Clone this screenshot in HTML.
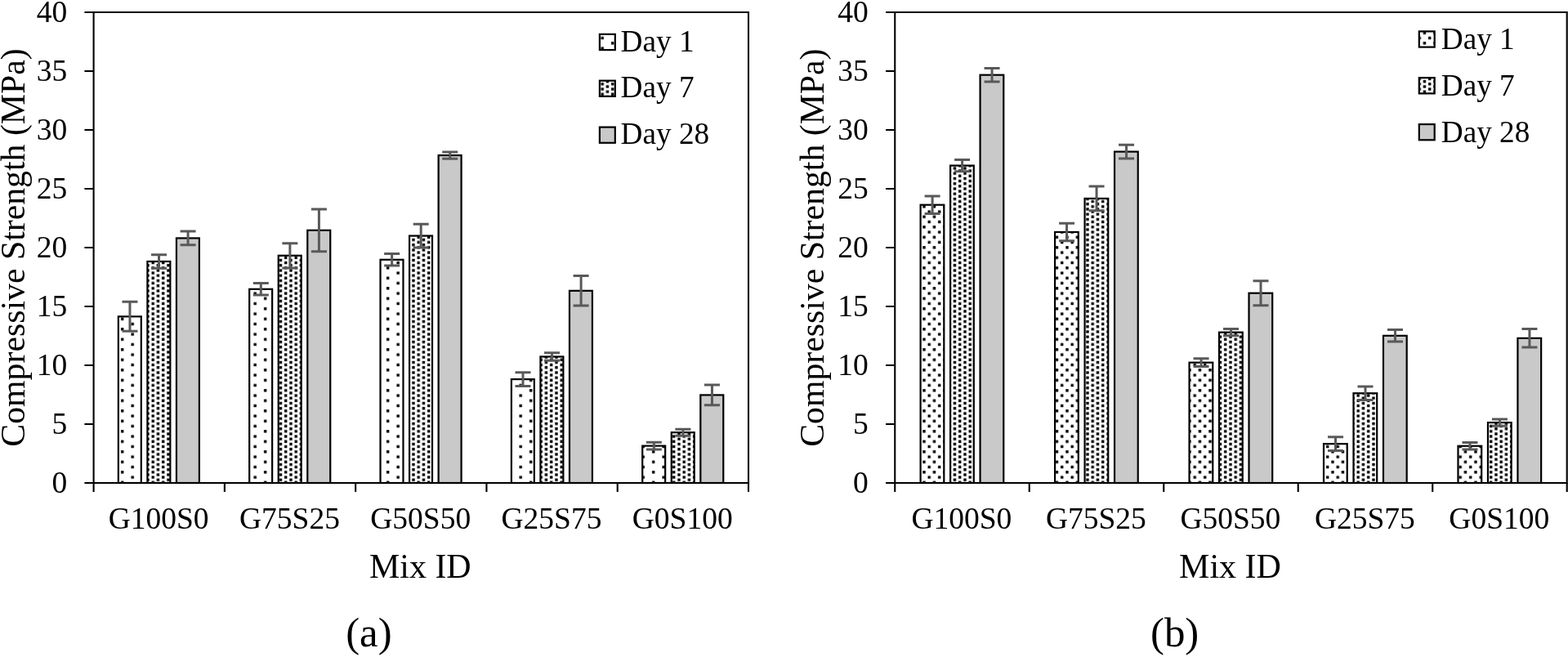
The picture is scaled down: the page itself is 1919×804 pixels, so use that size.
<!DOCTYPE html>
<html lang="en"><head><meta charset="utf-8"><title>Compressive strength</title>
<style>
html,body{margin:0;padding:0;background:#fff;}
body{width:1919px;height:804px;overflow:hidden;}
svg{display:block;}
text{font-family:"Liberation Serif","Times New Roman",serif;fill:#000;}
.t{font-size:37px;}
.ti{font-size:41.3px;}
.cp{font-size:50.6px;}
.ax{stroke:#000;stroke-width:2.1;fill:none;}
.b{stroke:#000;stroke-width:2.2;}
.e{stroke:#595959;stroke-width:3;fill:none;}
</style></head><body>
<svg width="1919" height="804" viewBox="0 0 1919 804">
<defs>
<pattern id="p10" patternUnits="userSpaceOnUse" x="-1.863" y="-1.863" width="25.000" height="12.500"><rect width="25.000" height="12.500" fill="#fff"/><g fill="#000"><rect x="-0.137" y="2.987" width="3.400" height="3.400"/><rect x="24.863" y="2.987" width="3.400" height="3.400"/><rect x="12.363" y="-3.262" width="3.400" height="3.400"/><rect x="12.363" y="9.238" width="3.400" height="3.400"/></g></pattern>
<pattern id="p20" patternUnits="userSpaceOnUse" x="-1.863" y="-1.863" width="12.500" height="12.500"><rect width="12.500" height="12.500" fill="#fff"/><g fill="#000"><rect x="6.112" y="2.987" width="3.400" height="3.400"/><rect x="-0.137" y="-3.262" width="3.400" height="3.400"/><rect x="-0.137" y="9.238" width="3.400" height="3.400"/><rect x="12.363" y="-3.262" width="3.400" height="3.400"/><rect x="12.363" y="9.238" width="3.400" height="3.400"/></g></pattern>
<pattern id="p25" patternUnits="userSpaceOnUse" x="-1.863" y="-1.863" width="12.500" height="6.250"><rect width="12.500" height="6.250" fill="#fff"/><g fill="#000"><rect x="-0.137" y="-3.263" width="3.400" height="3.400"/><rect x="-0.137" y="2.987" width="3.400" height="3.400"/><rect x="12.363" y="-3.263" width="3.400" height="3.400"/><rect x="12.363" y="2.987" width="3.400" height="3.400"/><rect x="6.112" y="-0.137" width="3.400" height="3.400"/><rect x="6.112" y="6.112" width="3.400" height="3.400"/></g></pattern>
</defs>
<rect width="1919" height="804" fill="#fff"/>
<g id="chart-a">
<rect class="b" x="144.85" y="387.35" width="27.95" height="203.65" fill="url(#p10)"/>
<rect class="b" x="180.40" y="319.96" width="27.95" height="271.04" fill="url(#p25)"/>
<rect class="b" x="215.95" y="291.45" width="27.95" height="299.55" fill="#c9c9c9"/>
<rect class="b" x="305.19" y="353.80" width="27.95" height="237.20" fill="url(#p10)"/>
<rect class="b" x="340.74" y="312.76" width="27.95" height="278.24" fill="url(#p25)"/>
<rect class="b" x="376.29" y="281.80" width="27.95" height="309.20" fill="#c9c9c9"/>
<rect class="b" x="465.53" y="317.80" width="27.95" height="273.20" fill="url(#p10)"/>
<rect class="b" x="501.08" y="288.57" width="27.95" height="302.43" fill="url(#p25)"/>
<rect class="b" x="536.63" y="190.07" width="27.95" height="400.93" fill="#c9c9c9"/>
<rect class="b" x="625.87" y="464.10" width="27.95" height="126.90" fill="url(#p10)"/>
<rect class="b" x="661.42" y="436.46" width="27.95" height="154.54" fill="url(#p25)"/>
<rect class="b" x="696.97" y="355.82" width="27.95" height="235.18" fill="#c9c9c9"/>
<rect class="b" x="786.21" y="545.61" width="27.95" height="45.39" fill="url(#p10)"/>
<rect class="b" x="821.76" y="529.19" width="27.95" height="61.81" fill="url(#p25)"/>
<rect class="b" x="857.31" y="483.40" width="27.95" height="107.60" fill="#c9c9c9"/>
<path class="e" d="M158.97 369.35V405.35M149.47 369.35H168.47M149.47 405.35H168.47"/>
<path class="e" d="M194.52 311.75V328.17M185.02 311.75H204.02M185.02 328.17H204.02"/>
<path class="e" d="M230.07 283.10V299.80M220.57 283.10H239.57M220.57 299.80H239.57"/>
<path class="e" d="M319.31 346.60V361.00M309.81 346.60H328.81M309.81 361.00H328.81"/>
<path class="e" d="M354.87 297.64V327.88M345.37 297.64H364.37M345.37 327.88H364.37"/>
<path class="e" d="M390.41 255.88V307.72M380.91 255.88H399.91M380.91 307.72H399.91"/>
<path class="e" d="M479.65 310.60V325.00M470.15 310.60H489.15M470.15 325.00H489.15"/>
<path class="e" d="M515.20 274.17V302.97M505.70 274.17H524.70M505.70 302.97H524.70"/>
<path class="e" d="M550.75 185.90V194.25M541.25 185.90H560.25M541.25 194.25H560.25"/>
<path class="e" d="M640.00 455.75V472.46M630.50 455.75H649.50M630.50 472.46H649.50"/>
<path class="e" d="M675.54 431.70V441.21M666.04 431.70H685.04M666.04 441.21H685.04"/>
<path class="e" d="M711.10 337.53V374.10M701.60 337.53H720.60M701.60 374.10H720.60"/>
<path class="e" d="M800.34 541.29V549.93M790.84 541.29H809.84M790.84 549.93H809.84"/>
<path class="e" d="M835.88 525.16V533.22M826.38 525.16H845.38M826.38 533.22H845.38"/>
<path class="e" d="M871.44 471.02V495.78M861.94 471.02H880.94M861.94 495.78H880.94"/>
<path class="ax" d="M103.40 15.00H916.00V591.00H103.40"/>
<path class="ax" d="M114.60 14.00V602.00"/>
<path class="ax" d="M103.40 519.00H114.60M103.40 447.00H114.60M103.40 375.00H114.60M103.40 303.00H114.60M103.40 231.00H114.60M103.40 159.00H114.60M103.40 87.00H114.60"/>
<path class="ax" d="M274.88 591.00V602.00M435.16 591.00V602.00M595.44 591.00V602.00M755.72 591.00V602.00M916.00 591.00V602.00"/>
<text class="t" text-anchor="end" transform="translate(82.20 603.20) scale(1.0140 1)">0</text>
<text class="t" text-anchor="end" transform="translate(82.20 531.20) scale(1.0140 1)">5</text>
<text class="t" text-anchor="end" transform="translate(82.20 459.20) scale(1.0140 1)">10</text>
<text class="t" text-anchor="end" transform="translate(82.20 387.20) scale(1.0140 1)">15</text>
<text class="t" text-anchor="end" transform="translate(82.20 315.20) scale(1.0140 1)">20</text>
<text class="t" text-anchor="end" transform="translate(82.20 243.20) scale(1.0140 1)">25</text>
<text class="t" text-anchor="end" transform="translate(82.20 171.20) scale(1.0140 1)">30</text>
<text class="t" text-anchor="end" transform="translate(82.20 99.20) scale(1.0140 1)">35</text>
<text class="t" text-anchor="end" transform="translate(82.20 27.20) scale(1.0140 1)">40</text>
<text class="t" text-anchor="middle" transform="translate(194.14 647.00) scale(1.0140 1)">G100S0</text>
<text class="t" text-anchor="middle" transform="translate(354.42 647.00) scale(1.0140 1)">G75S25</text>
<text class="t" text-anchor="middle" transform="translate(514.70 647.00) scale(1.0140 1)">G50S50</text>
<text class="t" text-anchor="middle" transform="translate(674.98 647.00) scale(1.0140 1)">G25S75</text>
<text class="t" text-anchor="middle" transform="translate(835.26 647.00) scale(1.0140 1)">G0S100</text>
<text class="ti" text-anchor="middle" transform="translate(514.30 706.70) scale(1.0160 1)">Mix ID</text>
<text class="ti" text-anchor="middle" transform="translate(30.20 303.00) rotate(-90) scale(1.0120 1)">Compressive Strength (MPa)</text>
<rect class="b" stroke-width="2.3" x="733.90" y="41.90" width="18.90" height="19.20" fill="url(#p10)"/>
<text class="t" transform="translate(759.60 62.50) scale(1.0060 1)">Day 1</text>
<rect class="b" stroke-width="2.3" x="733.90" y="98.70" width="18.90" height="19.20" fill="url(#p25)"/>
<text class="t" transform="translate(759.60 119.20) scale(1.0060 1)">Day 7</text>
<rect class="b" stroke-width="2.3" x="733.90" y="155.60" width="18.90" height="19.20" fill="#c9c9c9"/>
<text class="t" transform="translate(759.60 176.00) scale(1.0060 1)">Day 28</text>
<text class="cp" text-anchor="middle" transform="translate(451.40 791.10) scale(1.0060 1)">(a)</text>
</g>
<g id="chart-b">
<rect class="b" x="1126.60" y="250.70" width="28.70" height="340.30" fill="url(#p20)"/>
<rect class="b" x="1163.08" y="202.60" width="28.70" height="388.40" fill="url(#p25)"/>
<rect class="b" x="1199.56" y="91.72" width="28.70" height="499.28" fill="#c9c9c9"/>
<rect class="b" x="1291.07" y="283.96" width="28.70" height="307.04" fill="url(#p20)"/>
<rect class="b" x="1327.55" y="242.92" width="28.70" height="348.08" fill="url(#p25)"/>
<rect class="b" x="1364.03" y="185.61" width="28.70" height="405.39" fill="#c9c9c9"/>
<rect class="b" x="1455.54" y="443.66" width="28.70" height="147.34" fill="url(#p20)"/>
<rect class="b" x="1492.02" y="406.65" width="28.70" height="184.35" fill="url(#p25)"/>
<rect class="b" x="1528.50" y="358.70" width="28.70" height="232.30" fill="#c9c9c9"/>
<rect class="b" x="1620.01" y="543.16" width="28.70" height="47.84" fill="url(#p20)"/>
<rect class="b" x="1656.49" y="481.24" width="28.70" height="109.76" fill="url(#p25)"/>
<rect class="b" x="1692.97" y="410.82" width="28.70" height="180.18" fill="#c9c9c9"/>
<rect class="b" x="1784.48" y="545.75" width="28.70" height="45.25" fill="url(#p20)"/>
<rect class="b" x="1820.96" y="517.10" width="28.70" height="73.90" fill="url(#p25)"/>
<rect class="b" x="1857.44" y="413.85" width="28.70" height="177.15" fill="#c9c9c9"/>
<path class="e" d="M1141.10 239.90V261.50M1131.60 239.90H1150.60M1131.60 261.50H1150.60"/>
<path class="e" d="M1177.58 195.40V209.80M1168.08 195.40H1187.08M1168.08 209.80H1187.08"/>
<path class="e" d="M1214.06 83.51V99.93M1204.56 83.51H1223.56M1204.56 99.93H1223.56"/>
<path class="e" d="M1305.57 273.16V294.76M1296.07 273.16H1315.07M1296.07 294.76H1315.07"/>
<path class="e" d="M1342.05 228.09V257.75M1332.55 228.09H1351.55M1332.55 257.75H1351.55"/>
<path class="e" d="M1378.53 177.26V193.96M1369.03 177.26H1388.03M1369.03 193.96H1388.03"/>
<path class="e" d="M1470.04 438.76V448.55M1460.54 438.76H1479.54M1460.54 448.55H1479.54"/>
<path class="e" d="M1506.52 402.47V410.82M1497.02 402.47H1516.02M1497.02 410.82H1516.02"/>
<path class="e" d="M1543.00 343.72V373.67M1533.50 343.72H1552.50M1533.50 373.67H1552.50"/>
<path class="e" d="M1634.51 534.81V551.51M1625.01 534.81H1644.01M1625.01 551.51H1644.01"/>
<path class="e" d="M1670.99 472.89V489.59M1661.49 472.89H1680.49M1661.49 489.59H1680.49"/>
<path class="e" d="M1707.47 403.62V418.02M1697.97 403.62H1716.97M1697.97 418.02H1716.97"/>
<path class="e" d="M1798.98 541.43V550.07M1789.48 541.43H1808.48M1789.48 550.07H1808.48"/>
<path class="e" d="M1835.46 512.92V521.27M1825.96 512.92H1844.96M1825.96 521.27H1844.96"/>
<path class="e" d="M1871.94 402.62V425.08M1862.44 402.62H1881.44M1862.44 425.08H1881.44"/>
<path class="ax" d="M1084.05 15.00H1917.70V591.00H1084.05"/>
<path class="ax" d="M1095.25 14.00V602.00"/>
<path class="ax" d="M1084.05 519.00H1095.25M1084.05 447.00H1095.25M1084.05 375.00H1095.25M1084.05 303.00H1095.25M1084.05 231.00H1095.25M1084.05 159.00H1095.25M1084.05 87.00H1095.25"/>
<path class="ax" d="M1259.74 591.00V602.00M1424.23 591.00V602.00M1588.72 591.00V602.00M1753.21 591.00V602.00M1917.70 591.00V602.00"/>
<text class="t" text-anchor="end" transform="translate(1062.85 603.20) scale(1.0140 1)">0</text>
<text class="t" text-anchor="end" transform="translate(1062.85 531.20) scale(1.0140 1)">5</text>
<text class="t" text-anchor="end" transform="translate(1062.85 459.20) scale(1.0140 1)">10</text>
<text class="t" text-anchor="end" transform="translate(1062.85 387.20) scale(1.0140 1)">15</text>
<text class="t" text-anchor="end" transform="translate(1062.85 315.20) scale(1.0140 1)">20</text>
<text class="t" text-anchor="end" transform="translate(1062.85 243.20) scale(1.0140 1)">25</text>
<text class="t" text-anchor="end" transform="translate(1062.85 171.20) scale(1.0140 1)">30</text>
<text class="t" text-anchor="end" transform="translate(1062.85 99.20) scale(1.0140 1)">35</text>
<text class="t" text-anchor="end" transform="translate(1062.85 27.20) scale(1.0140 1)">40</text>
<text class="t" text-anchor="middle" transform="translate(1176.89 647.00) scale(1.0140 1)">G100S0</text>
<text class="t" text-anchor="middle" transform="translate(1341.39 647.00) scale(1.0140 1)">G75S25</text>
<text class="t" text-anchor="middle" transform="translate(1505.88 647.00) scale(1.0140 1)">G50S50</text>
<text class="t" text-anchor="middle" transform="translate(1670.37 647.00) scale(1.0140 1)">G25S75</text>
<text class="t" text-anchor="middle" transform="translate(1834.86 647.00) scale(1.0140 1)">G0S100</text>
<text class="ti" text-anchor="middle" transform="translate(1505.47 706.70) scale(1.0160 1)">Mix ID</text>
<text class="ti" text-anchor="middle" transform="translate(1007.80 303.20) rotate(-90) scale(1.0120 1)">Compressive Strength (MPa)</text>
<rect class="b" stroke-width="2.3" x="1736.80" y="38.40" width="18.90" height="19.20" fill="url(#p20)"/>
<text class="t" transform="translate(1763.80 60.00) scale(1.0060 1)">Day 1</text>
<rect class="b" stroke-width="2.3" x="1736.80" y="95.20" width="18.90" height="19.20" fill="url(#p25)"/>
<text class="t" transform="translate(1763.80 116.70) scale(1.0060 1)">Day 7</text>
<rect class="b" stroke-width="2.3" x="1736.80" y="152.10" width="18.90" height="19.20" fill="#c9c9c9"/>
<text class="t" transform="translate(1763.80 173.50) scale(1.0060 1)">Day 28</text>
<text class="cp" text-anchor="middle" transform="translate(1437.65 791.10) scale(1.0060 1)">(b)</text>
</g>
</svg>
</body></html>
